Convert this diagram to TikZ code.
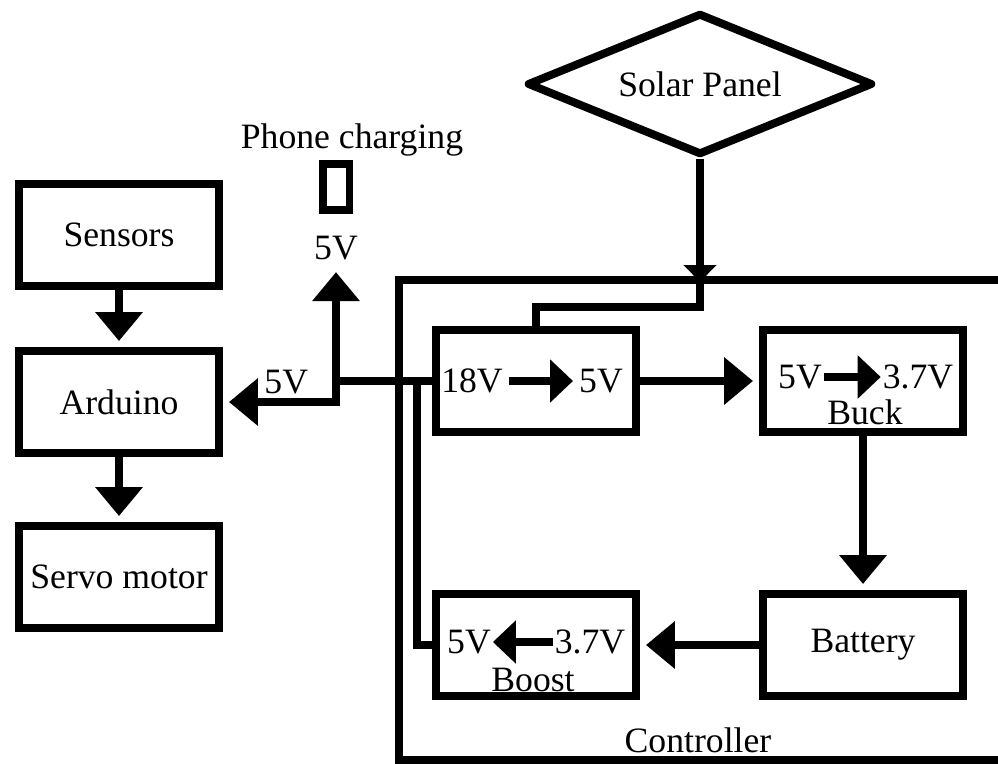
\documentclass[tikz,border=0pt]{standalone}
\usepackage{fontspec}
\setmainfont{Liberation Serif}
\usetikzlibrary{arrows.meta,shapes.geometric}

\tikzset{
	blk/.style={draw, line width=0.16cm, minimum width=4cm, minimum height=2.04cm},
	wire/.style={line width=0.16cm},
	arr/.style={wire, -{Triangle[length=0.58cm,width=0.92cm]}, shorten >=0.12cm},
	vtip/.style={wire, -{Triangle[length=0.46cm,width=0.84cm]}},
}

\begin{document}
\begin{tikzpicture}[x=0.02cm, y=-0.02cm, font=\fontsize{20.3}{24}\selectfont]
	\useasboundingbox (0,0) rectangle (998,764);
	\node[draw, diamond, line width=0.16cm, line join=round, aspect=2.4, inner sep=0pt, minimum width=6.92cm, minimum height=2.84cm] (solar) at (700,84) {Solar Panel};
	% controller enclosure
	\draw[wire] (998,280) -| (399,760) -- (998,760);
	\node (ctrl) at (698,740) {Controller};
	\coordinate (ctop) at (700,282);

	\node[blk] (sensors) at (119,235) {Sensors};
	\node[blk] (arduino) at (119,402) {Arduino};
	\node[blk] (servo) at (119,577) {Servo motor};

	\node (phtxt) at (352,140) {Phone charging};
	\node[draw, line width=0.16cm, inner sep=0pt, minimum width=0.54cm, minimum height=0.94cm] (phone) at (336,187) {};
	\node (pv) at (336,248) {5V};

	\node[blk] (conv) at (536,381) {};
	\node[blk] (buck) at (863,381) {};
	\node[blk] (batt) at (863,645) {Battery};
	\node[blk] (boost) at (536,645) {};

	\node (c18) at (472,381) {18V};
	\node (c5) at (601,381) {5V};
	\node[inner sep=1pt] (b5) at (800,377) {5V};
	\node[inner sep=1pt] (b37) at (918,377) {3.7V};
	\node (bk) at (865,412) {Buck};
	\node[inner sep=1pt] (o5) at (469,642) {5V};
	\node[inner sep=1pt] (o37) at (590,642) {3.7V};
	\node (bt) at (533,680) {Boost};

	\draw[vtip] (c18) -- (c5);
	\draw[vtip] (b5) -- (b37);
	\draw[vtip] (o37) -- (o5);

	\coordinate (jn) at (336,381);
	\coordinate (tap) at (417,381);

	\draw[arr] (sensors) -- (arduino);
	\draw[arr] (arduino) -- (servo);
	\draw[wire, -{Triangle[length=0.34cm,width=0.64cm]}] (solar.south) -- (ctop);
	\draw[wire] (ctop) -- ++(0,25) -| (conv.north);
	\draw[arr] (conv) -- (buck);
	\draw[arr] (buck) -- (batt);
	\draw[arr] (batt) -- (boost);
	\draw[wire] (conv.west) -- (jn);
	\draw[wire] (boost.west) -| (tap);
	\draw[arr] (jn) -- (pv);
	\draw[arr] (jn) |- (arduino.east) node[pos=0.72, above=1pt, inner sep=1pt] {5V};
\end{tikzpicture}
\end{document}
